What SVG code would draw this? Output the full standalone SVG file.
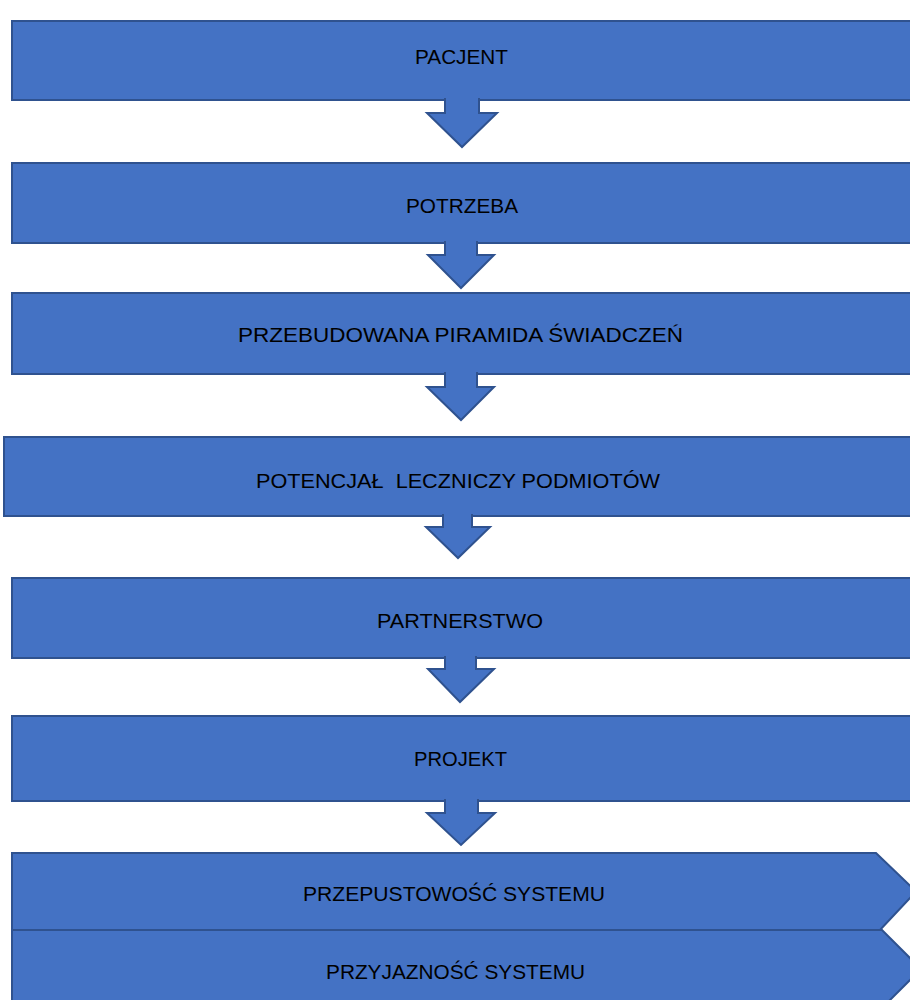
<svg xmlns="http://www.w3.org/2000/svg" width="910" height="1000" viewBox="0 0 910 1000">
<style>
.box{fill:#4472C4;stroke:#2F528F;stroke-width:2}
.arr{fill:#4472C4;stroke:#2F528F;stroke-width:2;stroke-linejoin:miter}
.t{font-family:"Liberation Sans",Arial,sans-serif;font-size:21px;fill:#000;text-anchor:middle}
</style>
<rect width="910" height="1000" fill="#fff"/>
<g id="pacjent"><rect class="box" x="12" y="21" width="910" height="79"/><text class="t" x="461.5" y="64" textLength="93" lengthAdjust="spacingAndGlyphs">PACJENT</text></g>
<g id="potrzeba"><rect class="box" x="12" y="163" width="910" height="80"/><text class="t" x="462" y="213" textLength="112" lengthAdjust="spacingAndGlyphs">POTRZEBA</text></g>
<g id="piramida"><rect class="box" x="12" y="293" width="910" height="81"/><text class="t" x="460.5" y="342" textLength="445" lengthAdjust="spacingAndGlyphs">PRZEBUDOWANA PIRAMIDA ŚWIADCZEŃ</text></g>
<g id="potencjal"><rect class="box" x="4" y="437" width="918" height="79"/><text class="t" x="458" y="488" textLength="404" lengthAdjust="spacingAndGlyphs" xml:space="preserve">POTENCJAŁ  LECZNICZY PODMIOTÓW</text></g>
<g id="partnerstwo"><rect class="box" x="12" y="578" width="910" height="80"/><text class="t" x="460" y="628" textLength="166" lengthAdjust="spacingAndGlyphs">PARTNERSTWO</text></g>
<g id="projekt"><rect class="box" x="12" y="716" width="910" height="85"/><text class="t" x="460.5" y="766" textLength="93" lengthAdjust="spacingAndGlyphs">PROJEKT</text></g>
<g id="przepustowosc"><polygon class="box" points="12,853 876,853 916,891.5 880,930 12,930"/><text class="t" x="454" y="901" textLength="302" lengthAdjust="spacingAndGlyphs">PRZEPUSTOWOŚĆ SYSTEMU</text></g>
<g id="przyjaznosc"><polygon class="box" points="12,930 882,930 921,969 882,1008 12,1008"/><text class="t" x="455.5" y="979" textLength="259" lengthAdjust="spacingAndGlyphs">PRZYJAZNOŚĆ SYSTEMU</text></g>
<g id="connectors">
<path class="arr" d="M445,98 V113 H427 L462,147 L497,113 H479 V98"/>
<path class="arr" d="M445,241 V255 H428 L461,288 L494,255 H477 V241"/>
<path class="arr" d="M445,372 V387 H427 L461,420 L494,387 H477 V372"/>
<path class="arr" d="M443,514 V527 H426 L458,558 L490,527 H472 V514"/>
<path class="arr" d="M445,656 V669 H428 L460,702 L494,669 H476 V656"/>
<path class="arr" d="M445,799 V813 H427 L461,845 L495,813 H478 V799"/>
</g>
</svg>
